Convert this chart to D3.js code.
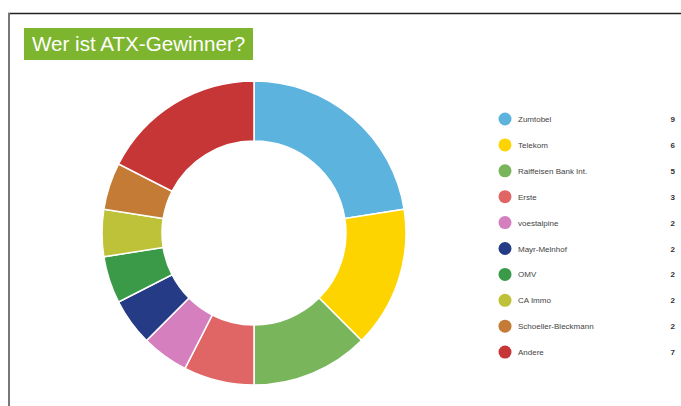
<!DOCTYPE html>
<html>
<head>
<meta charset="utf-8">
<script src="https://cdn.jsdelivr.net/npm/d3@7"></script>
<style>
  body { margin: 0; background: #fff; }
  svg { display: block; }
</style>
</head>
<body>
<svg id="chart"></svg>
<script>
// Daten
var names = ["Zumtobel", "Telekom", "Raiffeisen Bank Int.", "Erste", "voestalpine",
             "Mayr-Melnhof", "OMV", "CA Immo", "Schoeller-Bleckmann", "Andere"];
var counts = [9, 6, 5, 3, 2, 2, 2, 2, 2, 7];
var colors = ["#5cb3de", "#fdd300", "#79b55a", "#e06565", "#d57fbf",
              "#263b85", "#3b9a48", "#bec238", "#c47b35", "#c73636"];

var width = 681, height = 406;
var svg = d3.select("#chart").attr("width", width).attr("height", height);

// Rahmen
svg.append("line").attr("x1", 8).attr("x2", width).attr("y1", 13.5).attr("y2", 13.5)
  .attr("stroke", "#222").attr("stroke-width", 1.5);
svg.append("line").attr("x1", 9).attr("x2", 9).attr("y1", 13).attr("y2", height)
  .attr("stroke", "#777").attr("stroke-width", 2);

// Titel
svg.append("rect").attr("x", 24).attr("y", 28).attr("width", 229).attr("height", 32)
  .attr("fill", "#7db52e");
svg.append("text").attr("x", 32).attr("y", 51)
  .attr("fill", "#fff")
  .style("font-family", "Liberation Sans, Arial, sans-serif")
  .style("font-size", "20.6px")
  .text("Wer ist ATX-Gewinner?");

// Donut
var cx = 254, cy = 233;
var color = d3.scaleOrdinal().domain(names).range(colors);
var pie = d3.pie().sort(null).value(function(d, i) { return counts[i]; });
var arc = d3.arc().innerRadius(92).outerRadius(152);

svg.append("g")
  .attr("transform", "translate(" + cx + "," + cy + ")")
  .selectAll("path")
  .data(pie(names))
  .enter().append("path")
  .attr("d", arc)
  .attr("fill", function(d) { return color(d.data); })
  .attr("stroke", "#fff")
  .attr("stroke-width", 1.5);

// Legende
var legend = svg.append("g").attr("transform", "translate(505,119)");
var rows = legend.selectAll("g")
  .data(names)
  .enter().append("g")
  .attr("transform", function(d, i) { return "translate(0," + (i * 25.9) + ")"; });

rows.append("circle").attr("r", 6.5).attr("fill", function(d) { return color(d); });
rows.append("text")
  .attr("x", 13).attr("y", 3)
  .attr("fill", "#444")
  .style("font-family", "Liberation Sans, Arial, sans-serif")
  .style("font-size", "8px")
  .text(function(d) { return d; });
rows.append("text")
  .attr("x", 170).attr("y", 3)
  .attr("text-anchor", "end")
  .attr("fill", "#333")
  .style("font-family", "Liberation Sans, Arial, sans-serif")
  .style("font-size", "8px")
  .style("font-weight", "bold")
  .text(function(d, i) { return counts[i]; });
</script>
</body>
</html>
